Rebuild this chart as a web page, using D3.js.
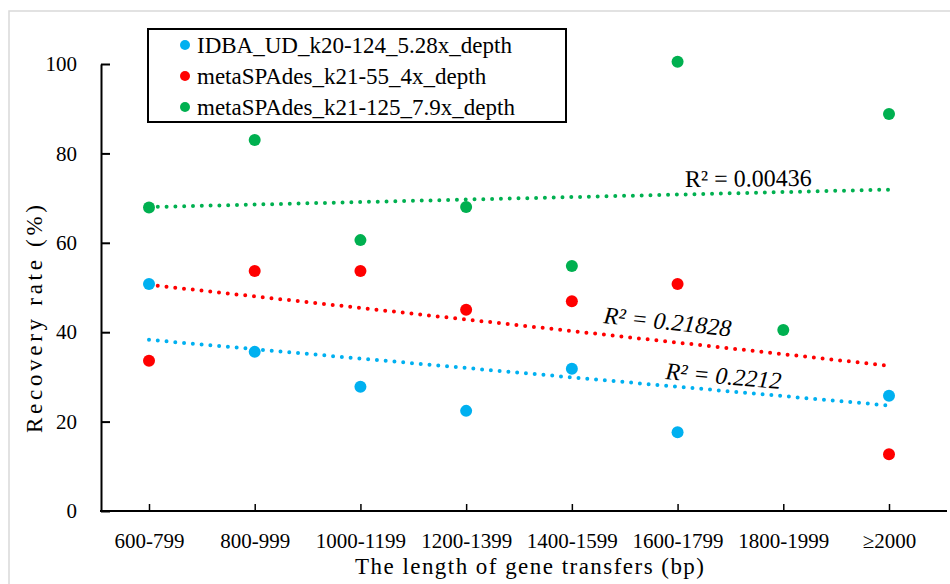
<!DOCTYPE html>
<html>
<head>
<meta charset="utf-8">
<script src="https://cdn.jsdelivr.net/npm/d3@7"></script>
</head>
<body style="margin:0">
<script>
const categories = ["600-799", "800-999", "1000-1199", "1200-1399", "1400-1599", "1600-1799", "1800-1999", "\u22652000"];
const seriesNames = ["IDBA_UD_k20-124_5.28x_depth", "metaSPAdes_k21-55_4x_depth", "metaSPAdes_k21-125_7.9x_depth"];
// null = no point for that length class
const idbaValues = [50.8, 35.6, 27.8, 22.4, 31.8, 17.6, null, 25.8];
const spades55Values = [33.6, 53.7, 53.7, 45.0, 46.9, 50.8, null, 12.7];
const spades125Values = [67.9, 83.0, 60.6, 68.0, 54.8, 100.5, 40.5, 88.8];
// linear trendline values at first and last category
const idbaTrend = [38.3, 23.6];
const spades55Trend = [50.6, 32.5];
const spades125Trend = [68.0, 71.9];
const r2Labels = ["R\u00b2 = 0.2212", "R\u00b2 = 0.21828", "R\u00b2 = 0.00436"];
const yTicks = [0, 20, 40, 60, 80, 100];

const width = 950, height = 584;
const colors = ["#00b0f0", "#ff0000", "#00b050"];

const svg = d3.select("body").append("svg")
  .attr("width", width)
  .attr("height", height)
  .style("display", "block");

// font shorthand on each text element
function serifText(sel, size, italic) {
  return sel
    .attr("font-size", null)
    .attr("font-family", null)
    .style("font", `${italic ? "italic " : ""}${size}px 'Liberation Serif'`)
    .attr("fill", "#000");
}

// outer chart frame (only top/left edges fall inside the picture)
svg.append("rect")
  .attr("x", 9).attr("y", 11)
  .attr("width", 960).attr("height", 600)
  .attr("fill", "none")
  .attr("stroke", "#d9d9d9")
  .attr("stroke-width", 1.5);

const x = d3.scalePoint().domain(categories).range([149, 889]);
const y = d3.scaleLinear().domain([0, 100]).range([511, 64]);

// y axis
const yAxis = svg.append("g")
  .attr("transform", "translate(101,0)")
  .call(d3.axisLeft(y).tickValues(yTicks).tickSize(-9).tickSizeOuter(0).tickPadding(24))
  .attr("font-family", null)
  .attr("font-size", null);
yAxis.select(".domain").attr("stroke-width", 2);
yAxis.selectAll(".tick line").attr("stroke-width", 2);
serifText(yAxis.selectAll("text"), 21);

// x axis
const xAxis = svg.append("g")
  .attr("transform", "translate(0,511)")
  .call(d3.axisBottom(x).tickSize(-7).tickSizeOuter(0).tickPadding(22))
  .attr("font-family", null)
  .attr("font-size", null);
xAxis.select(".domain").remove();
xAxis.append("line")
  .attr("x1", 100).attr("x2", 947)
  .attr("stroke", "#000").attr("stroke-width", 2);
xAxis.selectAll(".tick line").attr("stroke-width", 1.5);
serifText(xAxis.selectAll("text"), 21);

// axis titles
serifText(svg.append("text"), 23)
  .attr("x", 355).attr("y", 574)
  .attr("textLength", 349)
  .attr("lengthAdjust", "spacing")
  .text("The length of gene transfers (bp)");

serifText(svg.append("text"), 23)
  .attr("transform", "translate(42,433) rotate(-90)")
  .attr("textLength", 228)
  .attr("lengthAdjust", "spacing")
  .text("Recovery rate (%)");

const series = [
  { name: seriesNames[0], values: idbaValues, trend: idbaTrend, color: colors[0] },
  { name: seriesNames[1], values: spades55Values, trend: spades55Trend, color: colors[1] },
  { name: seriesNames[2], values: spades125Values, trend: spades125Trend, color: colors[2] }
];

// dotted trendlines
const trendLine = d3.line().x(d => x(d[0])).y(d => y(d[1]));
svg.append("g").selectAll("path")
  .data(series)
  .join("path")
  .attr("d", s => trendLine([[categories[0], s.trend[0]], [categories[categories.length - 1], s.trend[1]]]))
  .attr("fill", "none")
  .attr("stroke", s => s.color)
  .attr("stroke-width", 4)
  .attr("stroke-linecap", "round")
  .attr("stroke-dasharray", "0 8.8");

// points
series.forEach(s => {
  svg.append("g").selectAll("circle")
    .data(s.values.map((v, i) => ({ cat: categories[i], v })).filter(d => d.v != null))
    .join("circle")
    .attr("cx", d => x(d.cat))
    .attr("cy", d => y(d.v))
    .attr("r", 6)
    .attr("fill", s.color);
});

// R² labels
const labelPos = [
  { t: "translate(665,379) rotate(5)", italic: true },
  { t: "translate(603,323) rotate(6)", italic: true },
  { t: "translate(685,187) rotate(-0.5)", italic: false }
];
svg.append("g").selectAll("text")
  .data(r2Labels)
  .join("text")
  .attr("transform", (d, i) => labelPos[i].t)
  .each(function (d, i) { serifText(d3.select(this), 24, labelPos[i].italic); })
  .text(d => d);

// legend
const legend = svg.append("g");
legend.append("rect")
  .attr("x", 148).attr("y", 29)
  .attr("width", 418).attr("height", 93)
  .attr("fill", "#fff")
  .attr("stroke", "#000")
  .attr("stroke-width", 2);
const rows = legend.selectAll("g.row")
  .data(series)
  .join("g")
  .attr("class", "row")
  .attr("transform", (d, i) => `translate(0,${53 + i * 31})`);
rows.append("circle")
  .attr("cx", 185).attr("cy", -8)
  .attr("r", 5)
  .attr("fill", d => d.color);
serifText(rows.append("text"), 23)
  .attr("x", 197)
  .text(d => d.name);
</script>
</body>
</html>
